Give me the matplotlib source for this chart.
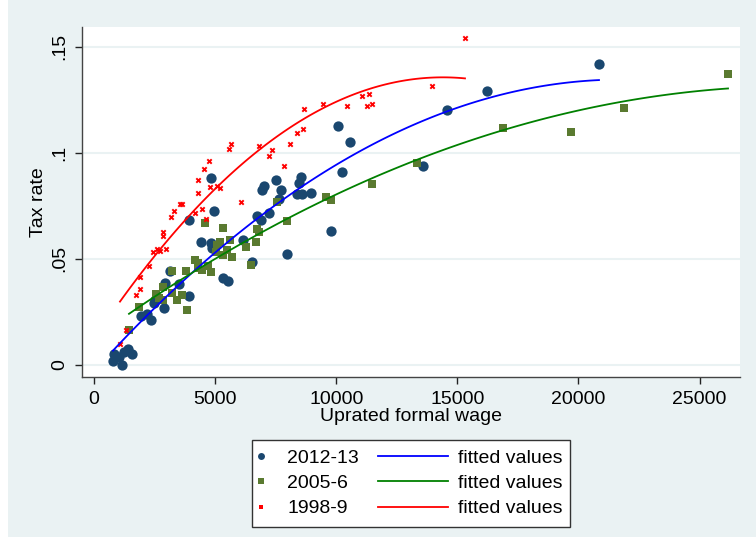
import numpy as np
import matplotlib
matplotlib.use("Agg")
import matplotlib.pyplot as plt
from matplotlib.patches import Rectangle
from matplotlib.lines import Line2D

# ===========================
# DATA
# ===========================
wage_2012 = [826, 784, 1156, 1032, 1239, 1404, 1569, 1941, 2188, 2353, 2477, 2890, 2519,
             2931, 3138, 3509, 3922, 3922, 4418, 4831, 4872, 4955, 4831, 5326, 5533,
             6152, 6524, 6730, 6895, 7225, 6936, 7019, 7514, 7721, 7638, 8547, 8464,
             8382, 8588, 8960, 7969, 9785, 10074, 10570, 10240, 13584, 14575, 16226, 20850]
tax_2012 = [.0052, .0019, .0000, .0038, .0061, .0075, .0052, .0231, .0241, .0212, .0292, .0269, .0307,
            .0387, .0443, .0382, .0325, .0684, .0580, .0575, .0552, .0726, .0882, .0410, .0396,
            .0590, .0486, .0703, .0684, .0717, .0825, .0844, .0873, .0825, .0783, .0887, .0858,
            .0807, .0807, .0811, .0524, .0632, .1127, .1052, .0910, .0939, .1203, .1292, .1420]

wage_2005 = [1445, 1858, 2560, 2684, 2849, 3221, 3427, 3633, 3840, 3799, 3221, 2849,
             4170, 4294, 4459, 4707, 4831, 4294, 4583, 5326, 5078, 5202, 5491, 5698,
             5326, 5037, 5615, 6276, 6689, 6730, 6813, 6482, 7556, 7969, 9579, 9785,
             11478, 13336, 16887, 19694, 21883, 26177]
tax_2005 = [.0165, .0274, .0335, .0316, .0368, .0443, .0307, .0330, .0259, .0443, .0340, .0307,
            .0495, .0481, .0448, .0467, .0439, .0458, .0670, .0646, .0566, .0580, .0542, .0509,
            .0519, .0533, .0590, .0557, .0580, .0642, .0627, .0472, .0769, .0679, .0792, .0778,
            .0854, .0953, .1118, .1099, .1212, .1373]

wage_1998 = [1073, 1321, 1734, 1899, 1899, 2271, 2436, 2601, 2725, 2973, 2849, 2849,
             3179, 3303, 3551, 3633, 4170, 4459, 4624, 4294, 4294, 4542, 4748, 4789,
             5078, 5202, 5574, 5656, 6069, 6813, 7349, 7225, 7845, 8092, 8381, 8629,
             8670, 9455, 10446, 11065, 11354, 11272, 11478, 13955, 15318]
tax_1998 = [.0099, .0165, .0330, .0358, .0415, .0467, .0533, .0547, .0538, .0547, .0627, .0608,
            .0698, .0726, .0759, .0759, .0717, .0736, .0689, .0811, .0873, .0925, .0962, .0840,
            .0844, .0835, .1019, .1042, .0769, .1033, .1014, .0986, .0939, .1042, .1094, .1113,
            .1208, .1231, .1222, .1269, .1278, .1222, .1231, .1316, .1542]

year_labels = ["2012-13", "2005-6", "1998-9"]
x_ticks = [0, 5000, 10000, 15000, 20000, 25000]
y_ticks = [0, 0.05, 0.10, 0.15]
y_tick_labels = ["0", ".05", ".1", ".15"]

# ===========================
# STYLE
# ===========================
BG = "#eaf2f3"
NAVY = "#1a476f"
OLIVE = "#5a7a30"
FS = 14

plt.rcParams['font.family'] = ['Liberation Sans', 'DejaVu Sans']


def qfit(x, y):
    # quadratic fit over the data range, like Stata's qfit
    x = np.asarray(x, float)
    coef = np.polyfit(x, np.asarray(y, float), 2)
    xs = np.linspace(x.min(), x.max(), 100)
    return xs, np.polyval(coef, xs)


def main():
    fig = plt.figure(figsize=(7.56, 5.49), dpi=100, facecolor="white")
    fig.patches.append(Rectangle((8 / 756, 12 / 549), 1 - 8 / 756, 1 - 12 / 549,
                                 transform=fig.transFigure, facecolor=BG,
                                 edgecolor="none", zorder=-10))

    ax = fig.add_axes([82 / 756, 1 - 377 / 549, (740 - 82) / 756, (377 - 27) / 549])
    ax.set_facecolor("white")

    # scatter
    ax.scatter(wage_2012, tax_2012, s=55, color=NAVY, linewidths=0, zorder=3)
    ax.scatter(wage_2005, tax_2005, s=30, marker="s", color=OLIVE, linewidths=0, zorder=3)
    ax.scatter(wage_1998, tax_1998, s=10, marker="x", color="red", linewidths=1.4, zorder=3)

    # fitted values
    for xs, ys, c in [(wage_2012, tax_2012, "blue"),
                      (wage_2005, tax_2005, "green"),
                      (wage_1998, tax_1998, "red")]:
        fx, fy = qfit(xs, ys)
        ax.plot(fx, fy, color=c, lw=1.3, zorder=4)

    ax.set_xlim(-495, 26672)
    ax.set_ylim(-0.0057, 0.1594)
    ax.set_xticks(x_ticks)
    ax.set_xticklabels([str(t) for t in x_ticks], fontsize=FS)
    ax.set_yticks(y_ticks)
    ax.set_yticklabels(y_tick_labels, fontsize=FS, rotation=90, va="center")
    ax.yaxis.grid(True, color=BG, lw=1.5)
    ax.set_axisbelow(True)

    for side in ["top", "right"]:
        ax.spines[side].set_visible(False)
    for side in ["left", "bottom"]:
        ax.spines[side].set_color("#444444")
        ax.spines[side].set_linewidth(1.0)
    ax.tick_params(direction="out", length=5, width=1, color="#222222", pad=5)

    ax.set_xlabel("Uprated formal wage", fontsize=FS, labelpad=0)
    ax.set_ylabel("Tax rate", fontsize=FS, labelpad=3)

    # legend: frame + two frameless legends (markers | lines)
    fig.patches.append(Rectangle((252 / 756, 1 - 527 / 549), (570 - 252) / 756, (527 - 440) / 549,
                                 transform=fig.transFigure, facecolor="white",
                                 edgecolor="#333333", lw=1.0, zorder=1))
    mk = [Line2D([], [], ls="none", marker="o", ms=5, color=NAVY, mew=0),
          Line2D([], [], ls="none", marker="s", ms=4, color=OLIVE, mew=0),
          Line2D([], [], ls="none", marker="s", ms=2.2, color="red", mew=0)]
    ln = [Line2D([], [], color="blue", lw=1.3),
          Line2D([], [], color="green", lw=1.3),
          Line2D([], [], color="red", lw=1.3)]
    fig.legend(mk, year_labels, loc="upper left", bbox_to_anchor=(255 / 756, 1 - 449 / 549),
               frameon=False, fontsize=FS, handlelength=0.6, handletextpad=1.05,
               labelspacing=0.4, borderpad=0, borderaxespad=0)
    fig.legend(ln, ["fitted values"] * 3, loc="upper left", bbox_to_anchor=(378 / 756, 1 - 449 / 549),
               frameon=False, fontsize=FS, handlelength=3.6, handletextpad=0.52,
               labelspacing=0.4, borderpad=0, borderaxespad=0)

    fig.savefig("out.png", dpi=100, facecolor=fig.get_facecolor())


if __name__ == "__main__":
    main()
